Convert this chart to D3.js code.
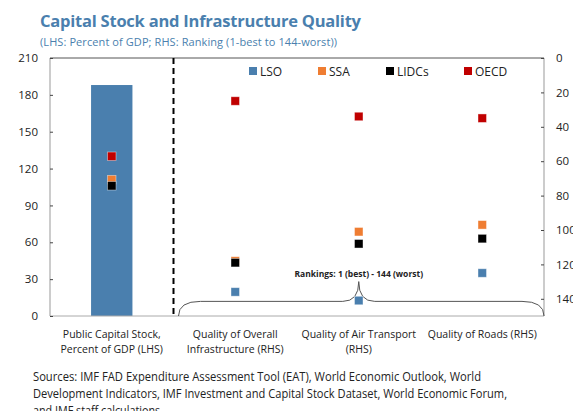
<!DOCTYPE html>
<html>
<head>
<meta charset="utf-8">
<script src="https://cdn.jsdelivr.net/npm/d3@7"></script>
<style>
  body { margin: 0; background: #fff; }
  svg { font-family: "Open Sans", "Noto Sans", sans-serif; }
</style>
</head>
<body>
<div id="chart"></div>
<script>
const categories = [
  ["Public Capital Stock,", "Percent of GDP (LHS)"],
  ["Quality of Overall", "Infrastructure (RHS)"],
  ["Quality of Air Transport", "(RHS)"],
  ["Quality of Roads (RHS)"]
];
const seriesNames = ["LSO", "SSA", "LIDCs", "OECD"];
const seriesColors = ["#4a7fae", "#ef7d32", "#000000", "#c00000"];
// first value is percent of GDP (LHS), the rest are rankings (RHS)
const lso = [188, 136, 141, 125];
const ssa = [111, 118, 101, 97];
const lidcs = [106, 119, 108, 105];
const oecd = [130, 25, 34, 35];
const leftTicks = [0, 30, 60, 90, 120, 150, 180, 210];
const rightTicks = [0, 20, 40, 60, 80, 100, 120, 140];

const W = 573, H = 411;
const M = { TOP: 58, BOTTOM: 95, LEFT: 50, RIGHT: 29 };
const WIDTH = W - M.LEFT - M.RIGHT;
const HEIGHT = H - M.TOP - M.BOTTOM;

const svg = d3.select("#chart").append("svg")
  .attr("width", W).attr("height", H);

svg.append("text").attr("x", 40).attr("y", 27)
  .attr("font-size", 16.5).attr("font-weight", "bold").attr("fill", "#4a7fae")
  .attr("textLength", 321)
  .text("Capital Stock and Infrastructure Quality");
svg.append("text").attr("x", 40).attr("y", 46)
  .attr("font-size", 11).attr("fill", "#4a7fae")
  .attr("textLength", 297)
  .text("(LHS: Percent of GDP; RHS: Ranking (1-best to 144-worst))");

const g = svg.append("g").attr("transform", `translate(${M.LEFT},${M.TOP})`);

const x = d3.scaleBand().domain(d3.range(categories.length)).range([0, WIDTH]);
const yL = d3.scaleLinear().domain([0, 210]).range([HEIGHT, 0]);
const yR = d3.scaleLinear().domain([0, 150]).range([0, HEIGHT]);

// bar (LSO capital stock)
const bw = x.bandwidth() * 0.335;
g.append("rect")
  .attr("x", x(0) + x.bandwidth() / 2 - bw / 2)
  .attr("y", yL(lso[0]))
  .attr("width", bw)
  .attr("height", HEIGHT - yL(lso[0]))
  .attr("fill", seriesColors[0]);

// frame
g.append("line").attr("x1", 0).attr("x2", WIDTH).attr("y1", 0).attr("y2", 0)
  .attr("stroke", "#555").attr("stroke-width", 1);
g.append("line").attr("x1", 0).attr("x2", WIDTH).attr("y1", HEIGHT).attr("y2", HEIGHT)
  .attr("stroke", "#aaa").attr("stroke-width", 1);

const leftAxis = d3.axisLeft(yL).tickValues(leftTicks).tickSize(-3).tickPadding(12);
const rightAxis = d3.axisRight(yR).tickValues(rightTicks).tickSize(-3).tickPadding(12);

const la = g.append("g").call(leftAxis);
const ra = g.append("g").attr("transform", `translate(${WIDTH},0)`).call(rightAxis);
[la, ra].forEach(a => {
  a.select(".domain").attr("stroke", "#999").attr("d", `M0,0V${HEIGHT}`);
  a.selectAll(".tick line").attr("stroke", "#444");
  a.selectAll(".tick text").attr("font-size", 11.5).attr("fill", "#222")
    .attr("font-family", "'Open Sans', sans-serif");
});

// dashed separator
g.append("line").attr("x1", x(1)).attr("x2", x(1)).attr("y1", 0).attr("y2", HEIGHT)
  .attr("stroke", "#000").attr("stroke-width", 2).attr("stroke-dasharray", "6,4");

// brace under RHS categories
const bx0 = x(1) + 5, bx1 = WIDTH, bmid = x(2) + x.bandwidth() / 2;
const by0 = HEIGHT, by1 = yR(141.5), btip = yR(130);
const brace = d3.path();
brace.moveTo(bx0, by0);
brace.quadraticCurveTo(bx0, by1, bx0 + 22, by1);
brace.lineTo(bmid - 16, by1);
brace.quadraticCurveTo(bmid, by1, bmid, btip);
brace.quadraticCurveTo(bmid, by1, bmid + 16, by1);
brace.lineTo(bx1 - 22, by1);
brace.quadraticCurveTo(bx1, by1, bx1, by0);
g.append("path").attr("d", brace.toString())
  .attr("fill", "none").attr("stroke", "#555").attr("stroke-width", 1);
g.append("text").attr("x", bmid).attr("y", btip - 5)
  .attr("text-anchor", "middle").attr("font-size", 8.5).attr("font-weight", "bold")
  .attr("fill", "#222").text("Rankings: 1 (best) - 144 (worst)");

// markers
const allSeries = [lso, ssa, lidcs, oecd];
const ms = 8.5;
allSeries.forEach((vals, si) => {
  vals.forEach((v, ci) => {
    if (si === 0 && ci === 0) return;
    const cy = ci === 0 ? yL(v) : yR(v);
    const cx = x(ci) + x.bandwidth() / 2;
    g.append("rect")
      .attr("x", cx - ms / 2).attr("y", cy - ms / 2)
      .attr("width", ms).attr("height", ms)
      .attr("fill", seriesColors[si])
      .attr("stroke", "#fff").attr("stroke-opacity", 0.5).attr("stroke-width", 0.8);
  });
});

// legend
const legendX = [203, 272, 340, 418];
seriesNames.forEach((n, i) => {
  const lg = g.append("g").attr("transform", `translate(${legendX[i]},13)`);
  lg.append("rect").attr("x", -4).attr("y", -4).attr("width", 8).attr("height", 8)
    .attr("fill", seriesColors[i]);
  lg.append("text").attr("x", 7).attr("y", 4.5).attr("font-size", 12)
    .attr("fill", "#222").text(n);
});

// category labels
categories.forEach((lines, i) => {
  const t = g.append("text").attr("text-anchor", "middle")
    .attr("x", x(i) + x.bandwidth() / 2).attr("y", HEIGHT + 22)
    .attr("font-size", 10.5).attr("fill", "#222");
  lines.forEach((l, j) => t.append("tspan")
    .attr("x", x(i) + x.bandwidth() / 2).attr("dy", j === 0 ? 0 : 15).text(l));
});

// sources
const sources = [
  "Sources: IMF FAD Expenditure Assessment Tool (EAT), World Economic Outlook, World",
  "Development Indicators, IMF Investment and Capital Stock Dataset, World Economic Forum,",
  "and IMF staff calculations."
];
const sourceWidths = [448, 474, 130];
sources.forEach((s, i) => svg.append("text").attr("x", 33).attr("y", 381 + i * 17)
  .attr("font-size", 12).attr("fill", "#222")
  .attr("textLength", sourceWidths[i]).attr("lengthAdjust", "spacingAndGlyphs")
  .text(s));
</script>
</body>
</html>
